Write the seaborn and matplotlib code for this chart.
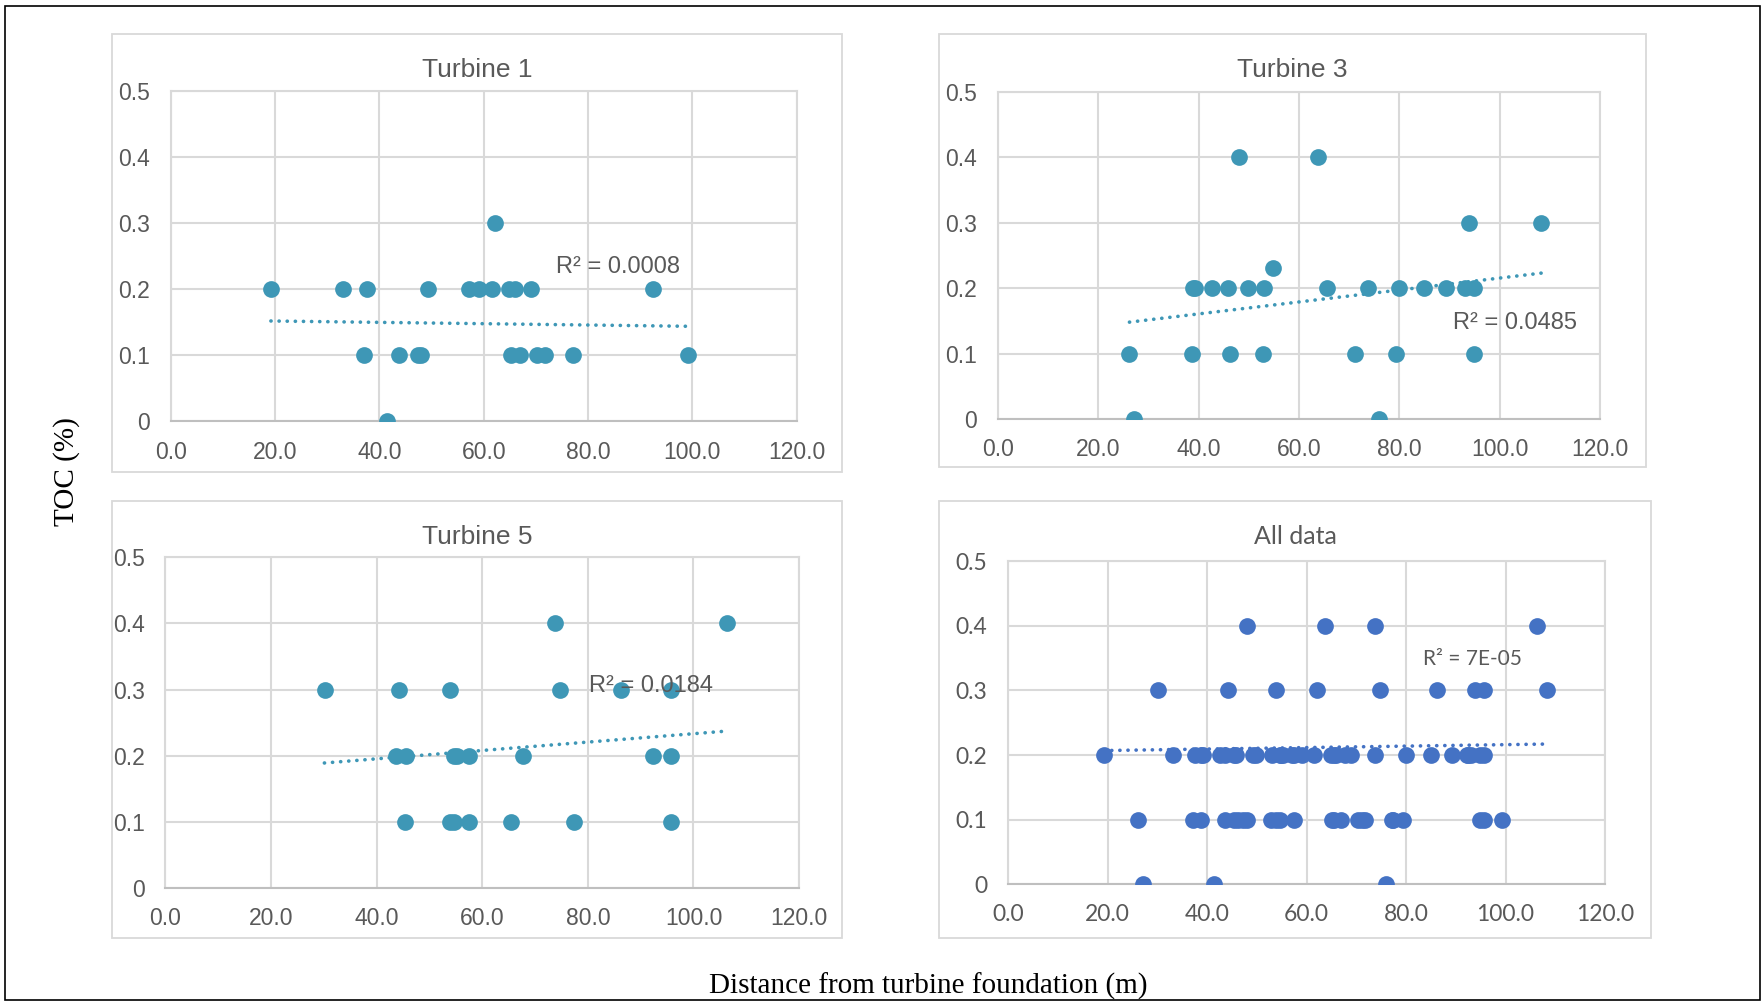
import numpy as np
import pandas as pd
import matplotlib
matplotlib.use("Agg")
import matplotlib.pyplot as plt
from matplotlib.patches import Rectangle
import seaborn as sns

# -----------------------------
# Data
# -----------------------------
t1_dist = [19.2, 33.1, 37.6, 49.3, 57.1, 59.1, 61.6, 64.9, 66.0, 69.0, 92.4,
           62.2,
           37.1, 43.7, 47.3, 48.0, 65.2, 66.9, 70.3, 71.8, 77.2, 99.2,
           41.4]
t1_toc = [0.2, 0.2, 0.2, 0.2, 0.2, 0.2, 0.2, 0.2, 0.2, 0.2, 0.2,
          0.3,
          0.1, 0.1, 0.1, 0.1, 0.1, 0.1, 0.1, 0.1, 0.1, 0.1,
          0.0]

t3_dist = [48.0, 63.8, 93.8, 108.3, 54.9,
           38.8, 39.2, 42.7, 45.8, 49.8, 53.1, 65.6, 73.8, 80.0, 85.0, 89.3, 93.0, 94.9,
           26.2, 38.7, 46.2, 52.9, 71.1, 79.3, 94.8,
           27.2, 75.9]
t3_toc = [0.4, 0.4, 0.3, 0.3, 0.23,
          0.2, 0.2, 0.2, 0.2, 0.2, 0.2, 0.2, 0.2, 0.2, 0.2, 0.2, 0.2, 0.2,
          0.1, 0.1, 0.1, 0.1, 0.1, 0.1, 0.1,
          0.0, 0.0]

t5_dist = [73.7, 106.3,
           30.2, 44.3, 53.8, 74.7, 86.2, 95.7,
           43.7, 45.5, 54.6, 55.3, 57.5, 67.7, 92.3, 95.7,
           45.4, 53.8, 54.7, 57.5, 65.5, 77.4, 95.7]
t5_toc = [0.4, 0.4,
          0.3, 0.3, 0.3, 0.3, 0.3, 0.3,
          0.2, 0.2, 0.2, 0.2, 0.2, 0.2, 0.2, 0.2,
          0.1, 0.1, 0.1, 0.1, 0.1, 0.1, 0.1]

# "All data" is the union of the three turbines (values shown to 1 decimal)
all_dist = t1_dist + t3_dist + t5_dist
all_toc = list(np.round(np.array(t1_toc + t3_toc + t5_toc), 1))

# linear trend lines as drawn in the reference (start / end points)
t1_trend_x = [19.2, 98.9]
t1_trend_y = [0.152, 0.144]
t3_trend_x = [26.2, 108.4]
t3_trend_y = [0.148, 0.223]
t5_trend_x = [30.1, 105.9]
t5_trend_y = [0.189, 0.237]
all_trend_x = [19.2, 107.6]
all_trend_y = [0.207, 0.217]

titles = ["Turbine 1", "Turbine 3", "Turbine 5", "All data"]
r2_labels = ["R² = 0.0008", "R² = 0.0485", "R² = 0.0184", "R² = 7E-05"]
r2_pos = [(85.7, 0.234), (103.0, 0.146), (91.9, 0.306), (93.3, 0.349)]
x_ticks = [0, 20, 40, 60, 80, 100, 120]
x_ticklabels = ["0.0", "20.0", "40.0", "60.0", "80.0", "100.0", "120.0"]
y_ticks = [0, 0.1, 0.2, 0.3, 0.4, 0.5]
y_ticklabels = ["0", "0.1", "0.2", "0.3", "0.4", "0.5"]

TEAL = "#3E97B6"
BLUE = "#4472C4"
GRID = "#D9D9D9"
TXT = "#595959"

sns.set_style("white")

fig = plt.figure(figsize=(17.62, 10.02), dpi=100)

# axes boxes in figure fractions [left, bottom, width, height]
ax_boxes = [
    [0.0969, 0.5794, 0.3553, 0.3298],
    [0.5664, 0.5818, 0.3417, 0.3267],
    [0.0939, 0.1138, 0.3596, 0.3300],
    [0.5721, 0.1173, 0.3388, 0.3228],
]
# chart-area frames in pixels (x0, y0 top, x1, y1 bottom)
frames = [
    (112, 34, 842, 472),
    (939, 34, 1646, 467),
    (112, 501, 842, 938),
    (939, 501, 1651, 938),
]

W, H = 1762, 1002

series = [(t1_dist, t1_toc), (t3_dist, t3_toc), (t5_dist, t5_toc), (all_dist, all_toc)]
trends = [(t1_trend_x, t1_trend_y), (t3_trend_x, t3_trend_y),
          (t5_trend_x, t5_trend_y), (all_trend_x, all_trend_y)]

for i, (xs, ys) in enumerate(series):
    color = BLUE if i == 3 else TEAL
    font = "Lato" if i == 3 else "Liberation Sans"

    # panel frame + title
    x0, y0, x1, y1 = frames[i]
    fig.patches.append(Rectangle((x0 / W, 1 - y1 / H), (x1 - x0) / W, (y1 - y0) / H,
                                 transform=fig.transFigure, fill=False,
                                 edgecolor=GRID, linewidth=1.3, zorder=0))
    fig.text((x0 + x1) / 2 / W, 1 - (y0 + 36) / H, titles[i], ha="center", va="center",
             fontsize=18 if i == 3 else 19, color=TXT, family=font)

    ax = fig.add_axes(ax_boxes[i])
    df = pd.DataFrame({"dist": xs, "toc": ys})
    sns.scatterplot(data=df, x="dist", y="toc", ax=ax, color=color, s=145,
                    linewidth=0, alpha=1, zorder=3)
    tx, ty = trends[i]
    sns.lineplot(x=tx, y=ty, ax=ax, color=color, linewidth=2.6,
                 linestyle=(0, (0.05, 2.2)), dash_capstyle="round", zorder=4)

    ax.set_xlim(0, 120)
    ax.set_ylim(0, 0.5)
    ax.set_xticks(x_ticks)
    ax.set_xticklabels(x_ticklabels)
    ax.set_yticks(y_ticks)
    ax.set_yticklabels(y_ticklabels)
    ax.set_xlabel("")
    ax.set_ylabel("")
    ax.grid(True, color=GRID, linewidth=1.5)
    ax.set_axisbelow(True)
    for s in ax.spines.values():
        s.set_visible(True)
        s.set_color(GRID)
        s.set_linewidth(1.5)
    ax.spines["bottom"].set_color("#BFBFBF")
    ax.tick_params(length=0, labelsize=16.5, labelcolor=TXT)
    ax.tick_params(axis="y", pad=15)
    ax.tick_params(axis="x", pad=14)
    for lab in ax.get_xticklabels() + ax.get_yticklabels():
        lab.set_family(font)
    ax.set_facecolor("white")

    rx, ry = r2_pos[i]
    ax.text(rx, ry, r2_labels[i], ha="center", va="center",
            fontsize=15 if i == 3 else 17, color=TXT, family=font, zorder=5)

# shared axis labels
fig.text(0.038, 0.529, "TOC (%)", rotation=90, ha="center", va="center",
         fontsize=21, family="Liberation Serif", color="black")
fig.text(0.527, 0.016, "Distance from turbine foundation (m)", ha="center", va="center",
         fontsize=21, family="Liberation Serif", color="black")

# outer border
fig.patches.append(Rectangle((5 / W, 2 / H), (W - 7) / W, (H - 8) / H,
                             transform=fig.transFigure, fill=False,
                             edgecolor="black", linewidth=1.2, zorder=0))

plt.savefig("out.png", dpi=100)
plt.close()
